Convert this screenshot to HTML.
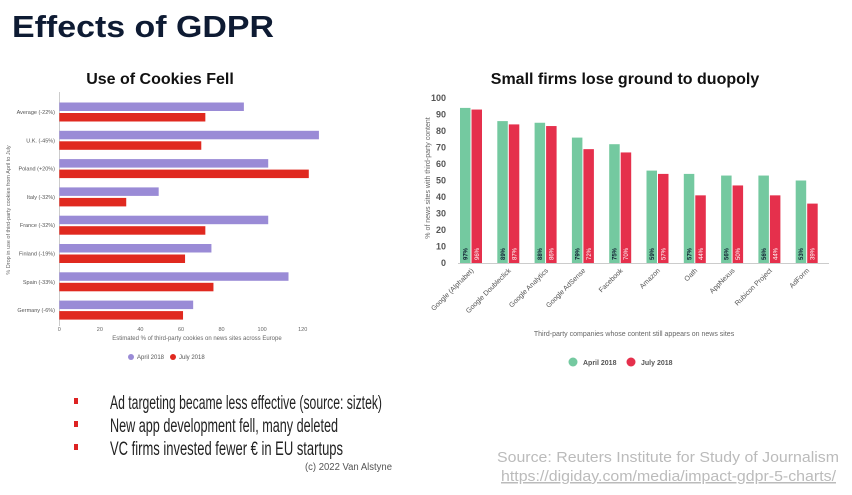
<!DOCTYPE html>
<html><head><meta charset="utf-8"><style>
html,body{margin:0;padding:0;background:#fff;}
svg{display:block;font-family:"Liberation Sans",sans-serif;}
</style></head><body>
<svg id="s" width="852" height="495" viewBox="0 0 852 495">
<text x="12" y="37" font-size="31" font-weight="bold" fill="#0e1b33" textLength="262" lengthAdjust="spacingAndGlyphs">Effects of GDPR</text>
<text x="160" y="84" font-size="16" font-weight="bold" fill="#111" text-anchor="middle">Use of Cookies Fell</text>
<text x="625" y="84" font-size="16" font-weight="bold" fill="#111" text-anchor="middle">Small firms lose ground to duopoly</text>
<g id="left"></g>
<g id="right"></g>
<g font-family="'Liberation Sans Narrow','Liberation Sans',sans-serif" font-size="19" fill="#222">
<rect x="74" y="398" width="4" height="6" fill="#d22"/>
<text x="110" y="409" textLength="272" lengthAdjust="spacingAndGlyphs">Ad targeting became less effective (source: siztek)</text>
<rect x="74" y="421" width="4" height="6" fill="#d22"/>
<text x="110" y="432" textLength="228" lengthAdjust="spacingAndGlyphs">New app development fell, many deleted</text>
<rect x="74" y="444" width="4" height="6" fill="#d22"/>
<text x="110" y="455" textLength="233" lengthAdjust="spacingAndGlyphs">VC firms invested fewer € in EU startups</text>
</g>
<text x="305" y="470" font-size="10" fill="#555" font-family="'Liberation Sans Narrow','Liberation Sans',sans-serif" textLength="87" lengthAdjust="spacingAndGlyphs">(c) 2022 Van Alstyne</text>
<text x="839" y="462" font-size="15" fill="#bbb" text-anchor="end" font-family="'Liberation Sans Narrow','Liberation Sans',sans-serif" textLength="342" lengthAdjust="spacingAndGlyphs">Source: Reuters Institute for Study of Journalism</text>
<text x="836" y="481" font-size="15" fill="#bbb" text-anchor="end" text-decoration="underline" font-family="'Liberation Sans Narrow','Liberation Sans',sans-serif" textLength="335" lengthAdjust="spacingAndGlyphs">https://digiday.com/media/impact-gdpr-5-charts/</text>
</svg>
<script>
const leftCats=["Average (-22%)","U.K. (-45%)","Poland (+20%)","Italy (-32%)","France (-32%)","Finland (-19%)","Spain (-33%)","Germany (-6%)"];
const leftApril=[91,128,103,49,103,75,113,66];
const leftJuly=[72,70,123,33,72,62,76,61];
const leftTicks=[0,20,40,60,80,100,120];
const rightCats=["Google (Alphabet)","Google Doubleclick","Google Analytics","Google AdSense","Facebook","Amazon","Oath","AppNexus","Rubicon Project","AdForm"];
const rightApril=[94,86,85,76,72,56,54,53,53,50];
const rightJuly=[93,84,83,69,67,54,41,47,41,36];
const rightAprilLabels=["97%","89%","88%","79%","75%","59%","57%","56%","56%","53%"];
const rightJulyLabels=["96%","87%","86%","72%","70%","57%","44%","50%","44%","39%"];
const rightTicks=[0,10,20,30,40,50,60,70,80,90,100];
const NS="http://www.w3.org/2000/svg";
function mk(p,tag,at,txt){const e=document.createElementNS(NS,tag);for(const k in at)e.setAttribute(k,at[k]);if(txt!==undefined)e.textContent=txt;p.appendChild(e);return e;}
// left chart
const L=document.getElementById('left');
const lx=v=>59.3+v*(243.4/120);
const rowY=i=>102.5+i*28.3;
mk(L,'line',{x1:59.5,y1:92,x2:59.5,y2:326,stroke:'#ccc','stroke-width':1});
leftTicks.forEach(t=>{const e=mk(L,'text',{x:lx(t),y:331,'font-size':5.5,fill:'#666','text-anchor':'middle'},t);

});
leftCats.forEach((c,i)=>{
const y=rowY(i);
const a=mk(L,'rect',{x:lx(0),y:y,width:lx(leftApril[i])-lx(0),height:8.5,fill:'#9a8bd6'});


const b=mk(L,'rect',{x:lx(0),y:y+10.5,width:lx(leftJuly[i])-lx(0),height:8.5,fill:'#e0291f'});


const t=mk(L,'text',{x:55,y:y+11.5,'font-size':5.5,fill:'#555','text-anchor':'end'},c);


});
const lyt=mk(L,'text',{x:0,y:0,'font-size':5.5,fill:'#666','text-anchor':'middle',transform:'translate(10,210) rotate(-90)'},'% Drop in use of third-party cookies from April to July');


const lxt=mk(L,'text',{x:197,y:340,'font-size':6,fill:'#666','text-anchor':'middle'},'Estimated % of third-party cookies on news sites across Europe');


let g=mk(L,'g',{});


mk(g,'circle',{cx:131,cy:357,r:3,fill:'#9a8bd6'});mk(g,'text',{x:137,y:359,'font-size':6,fill:'#555'},'April 2018');
mk(g,'circle',{cx:173,cy:357,r:3,fill:'#e0291f'});mk(g,'text',{x:179,y:359,'font-size':6,fill:'#555'},'July 2018');
// right chart
const R=document.getElementById('right');
const ry=v=>263-v*1.65;
const gx=i=>460+i*37.3;
mk(R,'line',{x1:458,y1:263.5,x2:829,y2:263.5,stroke:'#ccc','stroke-width':1});
rightTicks.forEach(t=>{const e=mk(R,'text',{x:446,y:ry(t)+3,'font-size':9,'font-weight':'bold',fill:'#555','text-anchor':'end'},t);

});
rightCats.forEach((c,i)=>{
const x=gx(i);
const a=mk(R,'rect',{x:x,y:ry(rightApril[i]),width:10.5,height:ry(0)-ry(rightApril[i]),fill:'#74c9a0'});


const b=mk(R,'rect',{x:x+11.5,y:ry(rightJuly[i]),width:10.5,height:ry(0)-ry(rightJuly[i]),fill:'#e5304c'});


const la=mk(R,'text',{x:0,y:0,'font-size':6,fill:'#123','font-weight':'bold',transform:`translate(${x+7.5},260) rotate(-90)`},rightAprilLabels[i]);


const lb=mk(R,'text',{x:0,y:0,'font-size':6,fill:'#fff',transform:`translate(${x+19},260) rotate(-90)`},rightJulyLabels[i]);


const t=mk(R,'text',{x:0,y:0,'font-size':7,fill:'#555','text-anchor':'end',transform:`translate(${x+14},271) rotate(-45)`},c);


});
const ryt=mk(R,'text',{x:0,y:0,'font-size':7,fill:'#666','text-anchor':'middle',transform:'translate(430,178) rotate(-90)'},'% of news sites with third-party content');


const rxt=mk(R,'text',{x:634,y:336,'font-size':7,fill:'#666','text-anchor':'middle'},'Third-party companies whose content still appears on news sites');


g=mk(R,'g',{});


mk(g,'circle',{cx:573,cy:362,r:4.5,fill:'#74c9a0'});mk(g,'text',{x:583,y:365,'font-size':7,'font-weight':'bold',fill:'#555'},'April 2018');
mk(g,'circle',{cx:631,cy:362,r:4.5,fill:'#e5304c'});mk(g,'text',{x:641,y:365,'font-size':7,'font-weight':'bold',fill:'#555'},'July 2018');
</script>
</body></html>
